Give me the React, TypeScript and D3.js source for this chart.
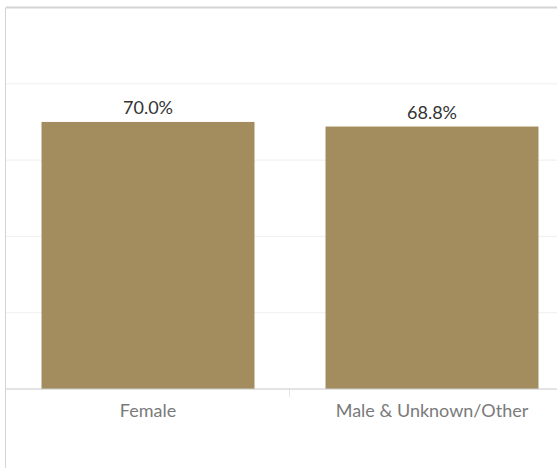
import * as d3 from "d3"

const categories = ["Female", "Male & Unknown/Other"]
const rates = [0.7, 0.688]
const gridTicks = [0.2, 0.4, 0.6, 0.8]

const W = 557
const H = 468

export default function App() {
  const left = 6
  const top = 7.5
  const base = 389
  // the pane runs a little past the window on the right
  const x = d3.scaleBand<string>()
    .domain(categories)
    .range([left, 574])
    .paddingInner(0.25)
    .paddingOuter(0.125)
  const y = d3.scaleLinear().domain([0, 1]).range([base, top])
  const fmt = d3.format(".1%")
  const font = "Lato, 'Open Sans', sans-serif"

  return (
    <div style={{ position: "fixed", left: 0, top: 0, width: W, height: H, background: "#fff" }}>
      <svg width={W} height={H} style={{ display: "block" }}>
        {/* gridlines */}
        {gridTicks.map((t) => (
          <line key={t} x1={left} x2={W} y1={y(t)} y2={y(t)} stroke="#efefef" strokeWidth={1} />
        ))}
        {/* pane borders */}
        <line x1={left} x2={W} y1={top} y2={top} stroke="#d4d4d4" strokeWidth={2} />
        <line x1={left - 0.5} x2={left - 0.5} y1={top} y2={H} stroke="#d4d4d4" strokeWidth={1} />

        {categories.map((c, i) => (
          <g key={c}>
            <rect
              x={x(c)}
              y={y(rates[i])}
              width={x.bandwidth()}
              height={base - y(rates[i])}
              fill="#a38d5e"
            />
            <text
              x={(x(c) || 0) + x.bandwidth() / 2}
              y={y(rates[i]) - 7.5}
              textAnchor="middle"
              fontFamily={font}
              fontSize={18}
              fill="#333"
            >
              {fmt(rates[i])}
            </text>
            <text
              x={(x(c) || 0) + x.bandwidth() / 2}
              y={416.5}
              textAnchor="middle"
              fontFamily={font}
              fontSize={18}
              fill="#7a7a7a"
            >
              {c}
            </text>
          </g>
        ))}

        {/* header divider */}
        <line x1={x.step() + left - 0.5} x2={x.step() + left - 0.5} y1={base} y2={397} stroke="#e6e6e6" strokeWidth={1} />
        {/* baseline */}
        <line x1={left} x2={W} y1={base} y2={base} stroke="#c8c8c8" strokeWidth={1} />
      </svg>
    </div>
  )
}
